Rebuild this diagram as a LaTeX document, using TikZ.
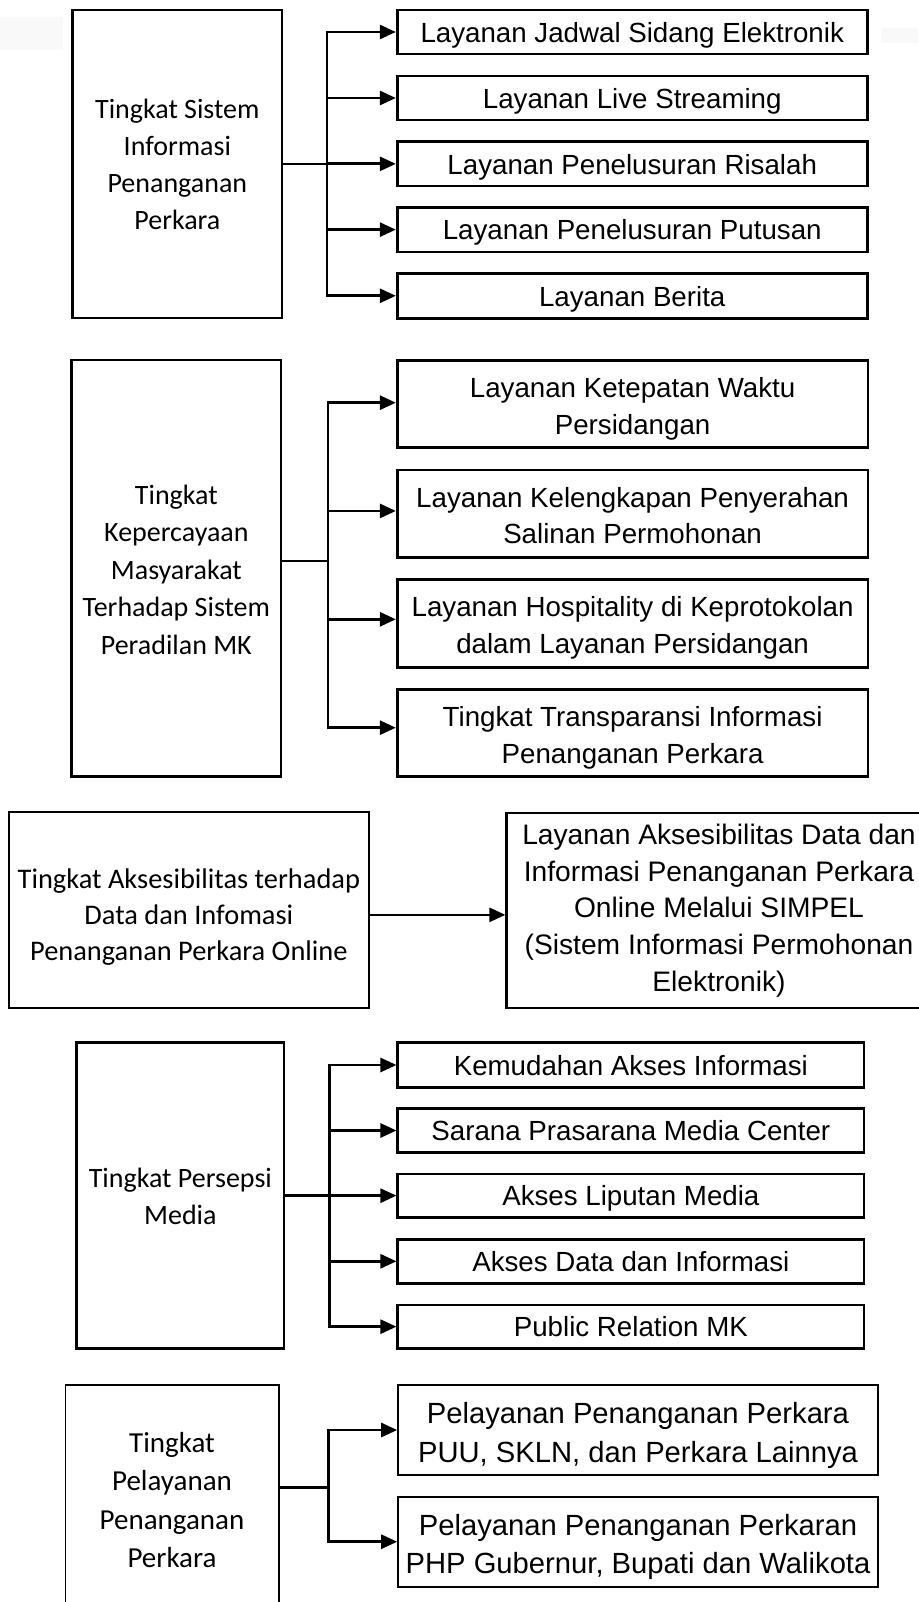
\documentclass[tikz,border=0pt]{standalone}
\usepackage{fontspec}
\setmainfont{Liberation Sans}
\newfontfamily\calib{Carlito}
\usetikzlibrary{arrows.meta}
\tikzset{
  sz/.style 2 args={minimum width=#1pt, minimum height=#2pt},
  % baseline of the last text line sits #1/2 below the node centre
  drop/.style={text height=#1pt, text depth=0pt},
  box/.style={draw=black, line width=2.7pt, inner sep=0pt, align=center,
    font=\fontsize{27.7}{36.7}\selectfont},
  oneline/.style={drop=20.6},
  twoline/.style={drop=60.6},
  leftbox/.style={box, font=\calib\fontsize{28}{37}\selectfont},
  thinbox/.style={line width=1.6pt},
  link/.style={line width=2.7pt},
  trunk/.style={link, line cap=rect},
  arr/.style={link, -{Triangle[length=16pt,width=14pt]}},
  haze/.style={fill=black!2.5, draw=none}
}
\begin{document}
\begin{tikzpicture}[x=1pt,y=-1pt]
\useasboundingbox (0,0) rectangle (918,1602);

% faint scan patches
\fill[haze] (0,17) rectangle (63,50);
\fill[haze] (881,28) rectangle (918,43);

% ---------------- block 1 ----------------
\node[leftbox, drop=132, sz={209.3}{308}] (L1) at (177.35,164)
  {Tingkat Sistem\\Informasi\\Penanganan\\Perkara};
\node[box, oneline, sz={470.1}{44}]   (R11) at (632.25,32)     {Layanan Jadwal Sidang Elektronik};
\node[box, oneline, sz={470.1}{44}]   (R12) at (632.25,98)     {Layanan Live Streaming};
\node[box, oneline, sz={470.1}{44.3}] (R13) at (632.25,163.85) {Layanan Penelusuran Risalah};
\node[box, oneline, sz={470.1}{44.7}] (R14) at (632.25,229.65) {Layanan Penelusuran Putusan};
\node[box, oneline, sz={470.1}{45}]   (R15) at (632.25,295.8)  {Layanan Berita};
\coordinate (J1) at (327,164);
\draw[link] (L1.east |- J1) -- (J1);
\draw[trunk] (J1 |- R11.west) -- (J1 |- R15.west);
\foreach \b in {R11,R12,R13,R14,R15}
  \draw[arr] (J1 |- \b.west) -- (\b.west);

% ---------------- block 2 ----------------
\node[leftbox, drop=171.4, sz={209.3}{416.7}, font=\calib\fontsize{28}{37.5}\selectfont] (L2) at (176.35,568.35)
  {Tingkat\\Kepercayaan\\Masyarakat\\Terhadap Sistem\\Peradilan MK};
\node[box, twoline, sz={470.8}{87}]   (R21) at (632.6,404.2)  {Layanan Ketepatan Waktu\\Persidangan};
\node[box, twoline, sz={470.8}{87.3}] (R22) at (632.6,513.65) {Layanan Kelengkapan Penyerahan\\Salinan Permohonan};
\node[box, twoline, sz={470.8}{88}]   (R23) at (632.6,623.3)  {Layanan Hospitality di Keprotokolan\\dalam Layanan Persidangan};
\node[box, twoline, sz={470.8}{87.4}] (R24) at (632.6,733)    {Tingkat Transparansi Informasi\\Penanganan Perkara};
\coordinate (J2) at (328,561);
\draw[link] (L2.east |- J2) -- (J2);
\draw[trunk] ([yshift=1.5pt]J2 |- R21.west) -- ([yshift=5.3pt]J2 |- R24.west);
\draw[arr] ([yshift=1.5pt]J2 |- R21.west) -- ([yshift=1.5pt]R21.west);
\draw[arr] ([yshift=2.7pt]J2 |- R22.west) -- ([yshift=2.7pt]R22.west);
\draw[arr] ([yshift=4pt]J2 |- R23.west) -- ([yshift=4pt]R23.west);
\draw[arr] ([yshift=5.3pt]J2 |- R24.west) -- ([yshift=5.3pt]R24.west);

% ---------------- block 3 ----------------
\node[leftbox, line width=2.2pt, drop=102, sz={360.1}{196.3}, font=\calib\fontsize{28.4}{36}\selectfont] (L3) at (188.85,909.85)
  {Tingkat Aksesibilitas terhadap\\Data dan Infomasi\\Penanganan Perkara Online};
\node[box, line width=2.2pt, sz={425}{195.6}, font=\fontsize{28.2}{36.8}\selectfont] (R3) at (719,910.5)
  {Layanan Aksesibilitas Data dan\\Informasi Penanganan Perkara\\Online Melalui SIMPEL\\(Sistem Informasi Permohonan\\Elektronik)};
\draw[arr] ([yshift=-5pt]L3.east) -- ([yshift=-5pt]L3.east -| R3.west);

% ---------------- block 4 ----------------
\node[leftbox, drop=57, sz={207.3}{305.6}] (L4) at (180.35,1195.5)
  {Tingkat Persepsi\\Media};
\node[box, oneline, sz={466.1}{44.6}] (R41) at (630.85,1065)    {Kemudahan Akses Informasi};
\node[box, oneline, sz={466.1}{44.4}] (R42) at (630.85,1130.5)  {Sarana Prasarana Media Center};
\node[box, oneline, sz={466.1}{43.3}] (R43) at (630.85,1195.65) {Akses Liputan Media};
\node[box, oneline, sz={466.1}{44}]   (R44) at (630.85,1261.3)  {Akses Data dan Informasi};
\node[box, oneline, sz={466.1}{43.3}] (R45) at (630.85,1326.65) {Public Relation MK};
\coordinate (J4) at (329.3,1195.7);
\draw[link] (L4.east |- J4) -- (J4);
\draw[trunk] (J4 |- R41.west) -- (J4 |- R45.west);
\foreach \b in {R41,R42,R43,R44,R45}
  \draw[arr] (J4 |- \b.west) -- (\b.west);

% ---------------- block 5 ----------------
\node[leftbox, thinbox, sz={213.4}{230}, font=\calib\fontsize{29}{38.3}\selectfont] (L5) at (172,1500)
  {Tingkat\\Pelayanan\\Penanganan\\Perkara};
\node[box, thinbox, drop=64.4, sz={480}{90}, font=\fontsize{29.2}{38.4}\selectfont] (R51) at (638,1430)
  {Pelayanan Penanganan Perkara\\PUU, SKLN, dan Perkara Lainnya};
\node[box, thinbox, drop=64.4, sz={480}{90}, font=\fontsize{29.2}{38.4}\selectfont] (R52) at (638,1541.7)
  {Pelayanan Penanganan Perkaran\\PHP Gubernur, Bupati dan Walikota};
\coordinate (J5) at (328.3,1487.3);
\draw[link] (L5.east |- J5) -- (J5);
\draw[trunk] (J5 |- R51.west) -- (J5 |- R52.west);
\foreach \b in {R51,R52}
  \draw[arr] (J5 |- \b.west) -- (\b.west);
\end{tikzpicture}
\end{document}
